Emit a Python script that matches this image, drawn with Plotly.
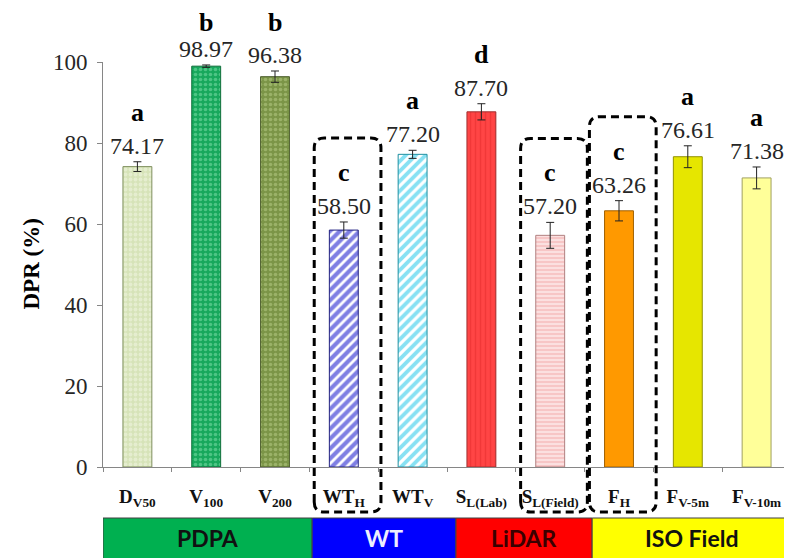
import plotly.graph_objects as go

# ---------------- data ----------------
categories = ["D<sub>V50</sub>", "V<sub>100</sub>", "V<sub>200</sub>", "WT<sub>H</sub>", "WT<sub>V</sub>",
              "S<sub>L(Lab)</sub>", "S<sub>L(Field)</sub>", "F<sub>H</sub>", "F<sub>V-5m</sub>", "F<sub>V-10m</sub>"]
dpr = [74.17, 98.97, 96.38, 58.50, 77.20, 87.70, 57.20, 63.26, 76.61, 71.38]
dpr_err = [1.2, 0.3, 1.4, 2.0, 1.0, 2.0, 3.2, 2.5, 2.7, 2.7]
letters = ["a", "b", "b", "c", "a", "d", "c", "c", "a", "a"]
highlighted = [3, 6, 7]  # dashed boxes
groups = ["PDPA", "WT", "LiDAR", "ISO Field"]
group_edges = [-0.5, 2.54, 4.63, 6.61, 9.5]
y_ticks = [0, 20, 40, 60, 80, 100]

# ---------------- styles ----------------
bg_colors = ["#D6E3B8", "#17A85C", "#7B9547", "#FFFFFF", "#FFFFFF",
             "#FF4545", "#F7C6C6", "#FF9900", "#E6E600", "#FFFF99"]
fg_colors = ["#F3F7E6", "#86E2AE", "#BCCF8C", "#0000C8", "#10C4E8",
             "#E42C2C", "#FFFFFF", "#FF9900", "#E6E600", "#FFFF99"]
shapes_pat = [".", ".", ".", "/", "/", "|", "-", "", "", ""]
pat_size = [5, 5, 5, 7, 7, 5, 4, 5, 5, 5]
pat_solid = [0.45, 0.4, 0.4, 0.6, 0.55, 0.3, 0.45, 0.3, 0.3, 0.3]
edge_colors = ["#7F8F5F", "#0E6E3A", "#4F6030", "#202080", "#2090A0",
               "#A03030", "#B08080", "#A06000", "#909000", "#A0A060"]
group_colors = ["#00B050", "#0000FF", "#FF0000", "#FFFF00"]
group_text = ["#111111", "#EEEEFF", "#3A0000", "#111111"]

SERIF = "Liberation Serif, Times New Roman, serif"
SANS = "Lato, Liberation Sans, Arial, sans-serif"

# page body margin of the browser (figure starts at 8,8)
OFF = 8
W, H = 792 - OFF, 558 - OFF
# plot area in reference pixels: x 103..791, y 62..467
PL, PR, PT, PB = 103, 791, 62, 467
ML, MT = PL - OFF, PT - OFF
MR = W - (PR - OFF)
MB = H - (PB - OFF)
PW, PH = PR - PL, PB - PT
YMAX = 100.0
LETTER_CAP = 97.6


def ref_y_paper(py):
    return (PB - py) / PH


x_idx = list(range(len(categories)))

fig = go.Figure()
for i in x_idx:
    pat = dict(shape=shapes_pat[i], bgcolor=bg_colors[i], fgcolor=fg_colors[i],
               size=pat_size[i], solidity=pat_solid[i], fillmode="overlay")
    fig.add_trace(go.Bar(
        x=[i], y=[dpr[i]], width=0.42,
        marker=dict(color=bg_colors[i], line=dict(color=edge_colors[i], width=1),
                    pattern=pat),
        error_y=dict(type="data", array=[dpr_err[i]], visible=True, color="#222222",
                     thickness=1, width=4),
        showlegend=False, hoverinfo="skip",
    ))

annotations = []
for i, (v, e, L) in enumerate(zip(dpr, dpr_err, letters)):
    annotations.append(dict(x=i, y=v + e, xref="x", yref="y", text=f"{v:.2f}",
                            showarrow=False, yanchor="bottom", yshift=1,
                            font=dict(family=SERIF, size=24, color="#262626")))
    annotations.append(dict(x=i, y=min(v + e, LETTER_CAP), xref="x", yref="y", text=f"<b>{L}</b>",
                            showarrow=False, yanchor="bottom", yshift=33,
                            font=dict(family=SERIF, size=26, color="#000000")))

# y-axis title
annotations.append(dict(x=-(PL - 31) / PW, y=0.5, xref="paper", yref="paper",
                        xanchor="center", yanchor="middle",
                        text="<b>DPR (%)</b>", textangle=-90, showarrow=False,
                        font=dict(family=SERIF, size=23, color="#000000")))

shapes = []
band_y0 = ref_y_paper(518)
band_y1 = ref_y_paper(575)
for gi, g in enumerate(groups):
    x0, x1 = group_edges[gi], group_edges[gi + 1]
    shapes.append(dict(type="rect", xref="x", yref="paper", x0=x0, x1=x1,
                       y0=band_y0, y1=band_y1, fillcolor=group_colors[gi],
                       line=dict(color="#404040", width=1), layer="above"))
    annotations.append(dict(x=(x0 + x1) / 2, y=ref_y_paper(538), xref="x", yref="paper",
                            xanchor="center", yanchor="middle",
                            text=f"<b>{g}</b>", showarrow=False,
                            font=dict(family=SANS, size=23, color=group_text[gi])))

# dashed rounded boxes around highlighted bars
rx = 10 / (PW / len(categories))
ry = 10 / PH
box_bottom = ref_y_paper(512)
for i in highlighted:
    x0, x1 = i - 0.43, i + 0.54
    y1 = (dpr[i] + dpr_err[i]) / YMAX + 84 / PH
    y0 = box_bottom
    path = (f"M {x0},{y0 + ry} L {x0},{y1 - ry} Q {x0},{y1} {x0 + rx},{y1} "
            f"L {x1 - rx},{y1} Q {x1},{y1} {x1},{y1 - ry} L {x1},{y0 + ry} "
            f"Q {x1},{y0} {x1 - rx},{y0} L {x0 + rx},{y0} Q {x0},{y0} {x0},{y0 + ry} Z")
    shapes.append(dict(type="path", xref="x", yref="paper", path=path,
                       line=dict(color="#000000", width=3, dash="8px,5px"), layer="above"))

fig.update_layout(
    width=W, height=H,
    margin=dict(l=ML, r=MR, t=MT, b=MB, pad=0, autoexpand=False),
    paper_bgcolor="white", plot_bgcolor="white",
    barmode="overlay",
    xaxis=dict(range=[-0.5, len(categories) - 0.5], tickvals=x_idx,
               ticktext=[f"<b>{c}</b>" for c in categories],
               showline=True, linecolor="#868686", linewidth=1, automargin=False,
               ticks="", showgrid=False, zeroline=False,
               tickfont=dict(family=SERIF, size=19, color="#111111"),
               ticklabelstandoff=12,
               minor=dict(tickvals=[k - 0.5 for k in range(len(categories) + 1)],
                          ticks="outside", ticklen=4, tickcolor="#868686", showgrid=False)),
    yaxis=dict(range=[0, YMAX], tickvals=y_ticks, showline=True, linecolor="#868686",
               linewidth=1, ticks="outside", ticklen=5, tickcolor="#868686", automargin=False,
               showgrid=False, zeroline=False, ticklabelstandoff=5,
               tickfont=dict(family=SERIF, size=23, color="#262626")),
    annotations=annotations,
    shapes=shapes,
)

fig.write_html("out.html")
